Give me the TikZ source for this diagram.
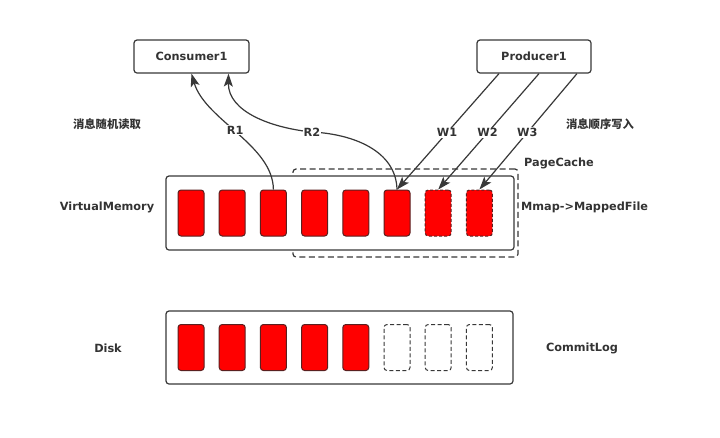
\documentclass[tikz,border=0pt]{standalone}
\usepackage{fontspec}
\setmainfont{DejaVu Sans}
\newfontfamily\cjk{Noto Sans CJK SC}
\usetikzlibrary{arrows.meta,calc}
\definecolor{txt}{HTML}{333333}
\definecolor{ln}{HTML}{383838}
\definecolor{cellred}{HTML}{FF0000}
\definecolor{celledge}{HTML}{5A2020}
\tikzset{
  lbltext/.style={text=txt,font=\bfseries\fontsize{11.3}{13}\selectfont},
  cjktext/.style={text=txt,font=\cjk\bfseries\fontsize{11.3}{13}\selectfont},
  box/.style={draw=ln,line width=1.2pt,rounded corners=3pt,fill=white},
  actor/.style={box,lbltext,minimum width=115pt,minimum height=33pt,inner sep=0pt},
  cellfull/.style={draw=celledge,line width=1pt,fill=cellred,rounded corners=3pt,minimum width=26pt,minimum height=46pt,inner sep=0pt},
  celldash/.style={cellfull,dashed,dash pattern=on 3pt off 2pt},
  cellempty/.style={draw=ln,line width=1pt,dashed,dash pattern=on 4pt off 2.5pt,rounded corners=3pt,minimum width=26pt,minimum height=46pt,inner sep=0pt},
  arr/.style={draw=ln,line width=1.2pt,-{Stealth[length=13pt,width=9pt,inset=3pt]}},
  onlbl/.style={lbltext,fill=white,inner sep=1pt},
}
\begin{document}
\begin{tikzpicture}[x=1pt,y=-1pt]
\useasboundingbox (0,0) rectangle (720,437);
\fill[white] (0,0) rectangle (720,437);
% boxes
\node[actor] (cons) at (191.5,56.5) {Consumer1};
\node[actor,minimum width=114pt] (prod) at (534,56.5) {Producer1};
\node[draw=ln,line width=1.2pt,dashed,dash pattern=on 6pt off 3.5pt,rounded corners=3pt,minimum width=225pt,minimum height=88pt] (pc) at (405.5,213) {};
\node[box,minimum width=348pt,minimum height=74pt] (vm) at (340,213) {};
\node[box,minimum width=347pt,minimum height=73pt] (disk) at (339.5,347.5) {};
% VM cells
\foreach \i in {1,...,6} {
  \node[cellfull] (v\i) at ({191+41.2*(\i-1)},213) {};
}
\node[celldash] (v7) at ({191+41.2*6},213) {};
\node[celldash] (v8) at ({191+41.2*7},213) {};
% disk cells
\foreach \i in {1,...,5} {
  \node[cellfull] (d\i) at ({191+41.2*(\i-1)},347.5) {};
}
\foreach \i in {6,7,8} {
  \node[cellempty] (d\i) at ({191+41.2*(\i-1)},347.5) {};
}
% texts
\node[cjktext] (t1) at (107,124) {消息随机读取};
\node[cjktext] (t2) at (600,124) {消息顺序写入};
\node[lbltext] (t3) at (559,163) {PageCache};
\node[lbltext] (t4) at (107,207) {VirtualMemory};
\node[lbltext,anchor=west,inner sep=0pt] (t5) at (521,207) {Mmap->MappedFile};
\node[lbltext] (t6) at (108,348) {Disk};
\node[lbltext] (t7) at (582,348) {CommitLog};
% read arrows
\draw[arr] (v3.north) .. controls (273,145) and (205,120) .. node[onlbl,pos=0.52] {R1} (cons.south);
\coordinate (r2m) at (312,132);
\draw[arr] (v6.north) .. controls (396,150) and (352,134) .. (r2m) node[onlbl] {R2} .. controls (272,128) and (228,112) .. ($(cons.south)+(37,0)$);
% write arrows
\draw[arr] ($(prod.south)+(-35,0)$) -- node[onlbl,pos=0.51] {W1} (v6.north);
\draw[arr] ($(prod.south)+(5,0)$) -- node[onlbl,pos=0.51] {W2} (v7.north);
\draw[arr] ($(prod.south)+(43,0)$) -- node[onlbl,pos=0.51] {W3} (v8.north);
\end{tikzpicture}
\end{document}
